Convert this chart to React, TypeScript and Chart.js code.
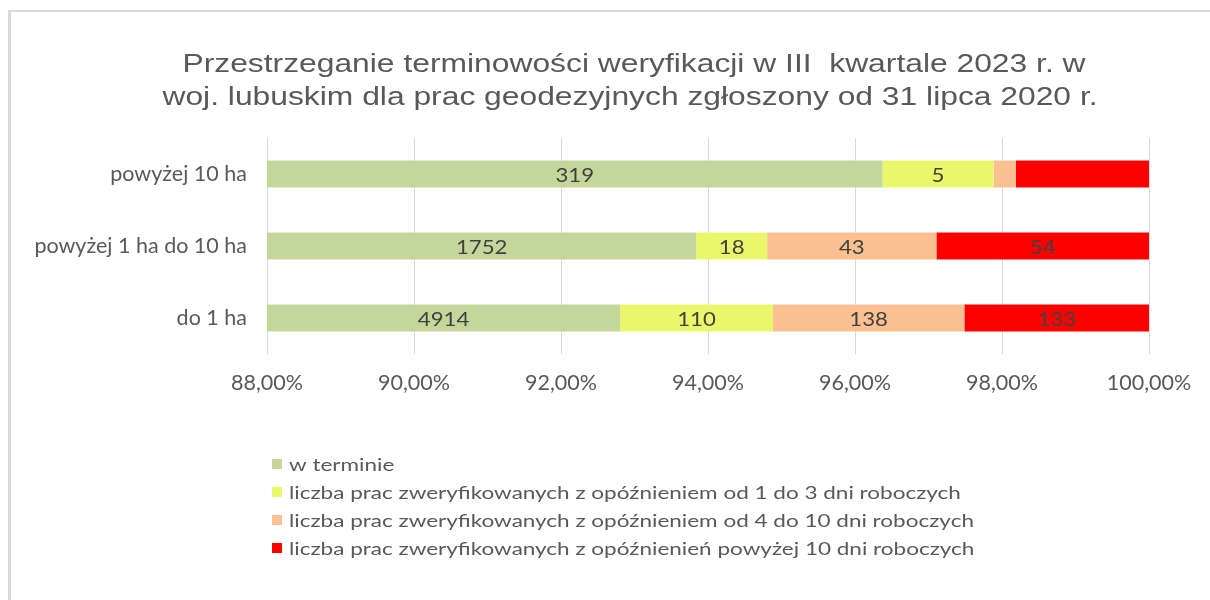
import React, { useEffect, useRef } from "react";
import { Chart, registerables } from "chart.js";

Chart.register(...registerables);

const titleLines = [
  "Przestrzeganie terminowości weryfikacji w III  kwartale 2023 r. w",
  "woj. lubuskim dla prac geodezyjnych zgłoszony od 31 lipca 2020 r.",
];
const categories = ["powyżej 10 ha", "powyżej 1 ha do 10 ha", "do 1 ha"];
const seriesNames = [
  "w terminie",
  "liczba prac zweryfikowanych z opóźnieniem od 1 do 3 dni roboczych",
  "liczba prac zweryfikowanych z opóźnieniem od 4 do 10 dni roboczych",
  "liczba prac zweryfikowanych z opóźnienień powyżej 10 dni roboczych",
];
const onTime = [319, 1752, 4914];
const delay1to3 = [5, 18, 110];
const delay4to10 = [1, 43, 138];
const delayOver10 = [6, 54, 133];
const seriesColors = ["#c4d79b", "#ebf76b", "#fac090", "#ff0000"];
const xMin = 88;
const xMax = 100;
const xStep = 2;
// data labels not shown in the reference: [seriesIndex, categoryIndex]
const hiddenLabels = [
  [2, 0],
  [3, 0],
];

const counts = [onTime, delay1to3, delay4to10, delayOver10];
const totals = categories.map((_, i) => counts.reduce((s, arr) => s + arr[i], 0));

const FONT = "Lato, 'Open Sans', sans-serif";
const TITLE_FONT = "'Liberation Sans', Arial, sans-serif";
const TEXT = "#595959";

function stretchedText(ctx: any, text: string, x: number, y: number, sx: number, align: string) {
  ctx.save();
  ctx.translate(x, y);
  ctx.scale(sx, 1);
  ctx.textAlign = align;
  ctx.fillText(text, 0, 0);
  ctx.restore();
}

const titlePlugin = {
  id: "stretchTitle",
  afterDraw(chart: any) {
    const ctx = chart.ctx;
    ctx.save();
    ctx.font = `26.5px ${TITLE_FONT}`;
    ctx.fillStyle = TEXT;
    ctx.textBaseline = "alphabetic";
    stretchedText(ctx, titleLines[0], 634, 72, 1.2, "center");
    stretchedText(ctx, titleLines[1], 630, 105, 1.2, "center");
    ctx.restore();
  },
};

const dataLabelPlugin = {
  id: "dataLabels",
  afterDatasetsDraw(chart: any) {
    const ctx = chart.ctx;
    const area = chart.chartArea;
    ctx.save();
    ctx.font = `18.5px ${FONT}`;
    ctx.fillStyle = "#404040";
    ctx.textBaseline = "middle";
    chart.data.datasets.forEach((ds: any, di: number) => {
      const meta = chart.getDatasetMeta(di);
      meta.data.forEach((el: any, j: number) => {
        if (hiddenLabels.some(([a, b]) => a === di && b === j)) return;
        const p = el.getProps(["x", "base", "y"], true);
        const l = Math.max(Math.min(p.x, p.base), area.left);
        const r = Math.min(Math.max(p.x, p.base), area.right);
        if (r <= l) return;
        stretchedText(ctx, String(counts[di][j]), (l + r) / 2, p.y + 2, 1.2, "center");
      });
    });
    ctx.restore();
  },
};

const legendPlugin = {
  id: "customLegend",
  afterDraw(chart: any) {
    const ctx = chart.ctx;
    ctx.save();
    ctx.font = `18px ${FONT}`;
    ctx.textBaseline = "middle";
    seriesNames.forEach((name, i) => {
      const y = 464 + i * 28;
      ctx.fillStyle = seriesColors[i];
      ctx.fillRect(272, y - 5, 10, 10);
      ctx.fillStyle = TEXT;
      stretchedText(ctx, name, 289, y + 1, 1.25, "left");
    });
    ctx.restore();
  },
};

export default function App() {
  const ref = useRef<HTMLCanvasElement>(null);
  useEffect(() => {
    if (!ref.current) return;
    const chart = new Chart(ref.current, {
      type: "bar",
      data: {
        labels: categories,
        datasets: counts.map((arr, i) => ({
          label: seriesNames[i],
          data: arr.map((v, j) => (v / totals[j]) * 100),
          backgroundColor: seriesColors[i],
          borderWidth: 0,
          barPercentage: 0.375,
          categoryPercentage: 1,
        })),
      },
      plugins: [titlePlugin, dataLabelPlugin, legendPlugin],
      options: {
        indexAxis: "y",
        responsive: false,
        maintainAspectRatio: false,
        animation: false,
        layout: { padding: { left: 0, right: 61, top: 138, bottom: 196 } },
        plugins: {
          legend: { display: false },
          tooltip: { enabled: false },
          title: { display: false },
        },
        scales: {
          x: {
            type: "linear",
            stacked: true,
            min: xMin,
            max: xMax,
            ticks: {
              stepSize: xStep,
              color: TEXT,
              font: { family: FONT, size: 21.5 },
              padding: 16,
              callback: (v: any) => Number(v).toFixed(2).replace(".", ",") + "%",
            },
            grid: { color: "#d9d9d9", drawTicks: false },
            border: { display: false },
            afterFit: (s: any) => {
              s.height = 50;
            },
          },
          y: {
            stacked: true,
            ticks: { color: TEXT, font: { family: FONT, size: 21.5 }, padding: 12 },
            grid: { display: false },
            border: { display: false },
            afterFit: (s: any) => {
              s.width = 267;
            },
          },
        },
      },
    } as any);
    return () => chart.destroy();
  }, []);
  return (
    <div style={{ position: "fixed", left: 0, top: 0, width: 1210, height: 600, background: "#fff" }}>
      <div
        style={{
          position: "absolute",
          left: 8,
          top: 10,
          width: 1300,
          height: 700,
          borderLeft: "3px solid #d9d9d9",
          borderTop: "2px solid #d9d9d9",
        }}
      />
      <canvas ref={ref} width={1210} height={600} style={{ position: "absolute", left: 0, top: 0 }} />
    </div>
  );
}
